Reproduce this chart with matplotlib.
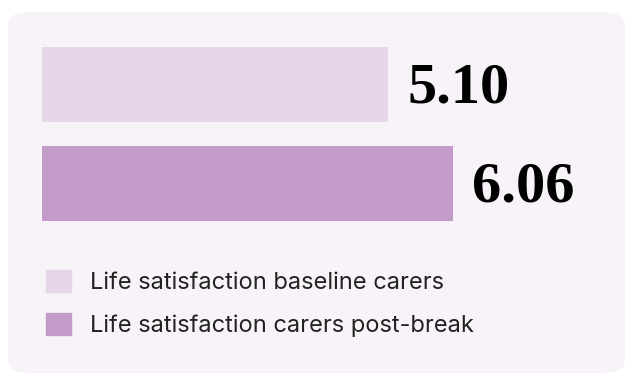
import matplotlib.pyplot as plt
from matplotlib.patches import FancyBboxPatch

# data
labels = ["Life satisfaction baseline carers", "Life satisfaction carers post-break"]
values = [5.10, 6.06]
value_text = ["5.10", "6.06"]
colors = ["#e5d7e8", "#c39bc8"]

W, H = 627, 374
fig = plt.figure(figsize=(W / 100, H / 100), dpi=100)
fig.patch.set_facecolor("white")

# rounded panel behind everything
panel = FancyBboxPatch((8 / W, 1 / H), (W - 10) / W, (H - 13) / H,
                       boxstyle="round,pad=0,rounding_size=0.035",
                       transform=fig.transFigure, facecolor="#f8f3f8",
                       edgecolor="none", zorder=0)
fig.patches.append(panel)

# axes placed so that x=0 sits at 42px, ~67.8 px per unit
px_per_unit = 67.8
left = 42
ax = fig.add_axes([left / W, (H - 233) / H, (W - left) / W, 198 / H])
ax.set_zorder(2)
ax.set_facecolor("none")
ax.set_xlim(0, (W - left) / px_per_unit)
ax.set_ylim(1.5, -0.5)

bars = ax.barh(range(len(values)), values, height=0.75, color=colors,
               label=labels)
for b, v, t in zip(bars, values, value_text):
    ax.annotate(t, (v, b.get_y() + b.get_height() / 2), xytext=(14, -3),
                textcoords="offset points", va="center", ha="left",
                fontsize=42, fontweight="bold", family="Liberation Serif",
                color="black")

ax.axis("off")

handles = [plt.Rectangle((0, 0), 1, 1, color=c) for c in colors]
leg = fig.legend(handles, labels, loc="upper left",
                 bbox_to_anchor=(46 / W, 1 - 270 / H), frameon=False,
                 prop={"family": "Inter", "size": 17}, labelcolor="#222222",
                 handlelength=1.06, handleheight=1.06, handletextpad=0.8,
                 labelspacing=0.8, borderaxespad=0, borderpad=0)
leg.set_zorder(3)

fig.savefig("out.png", dpi=100)
